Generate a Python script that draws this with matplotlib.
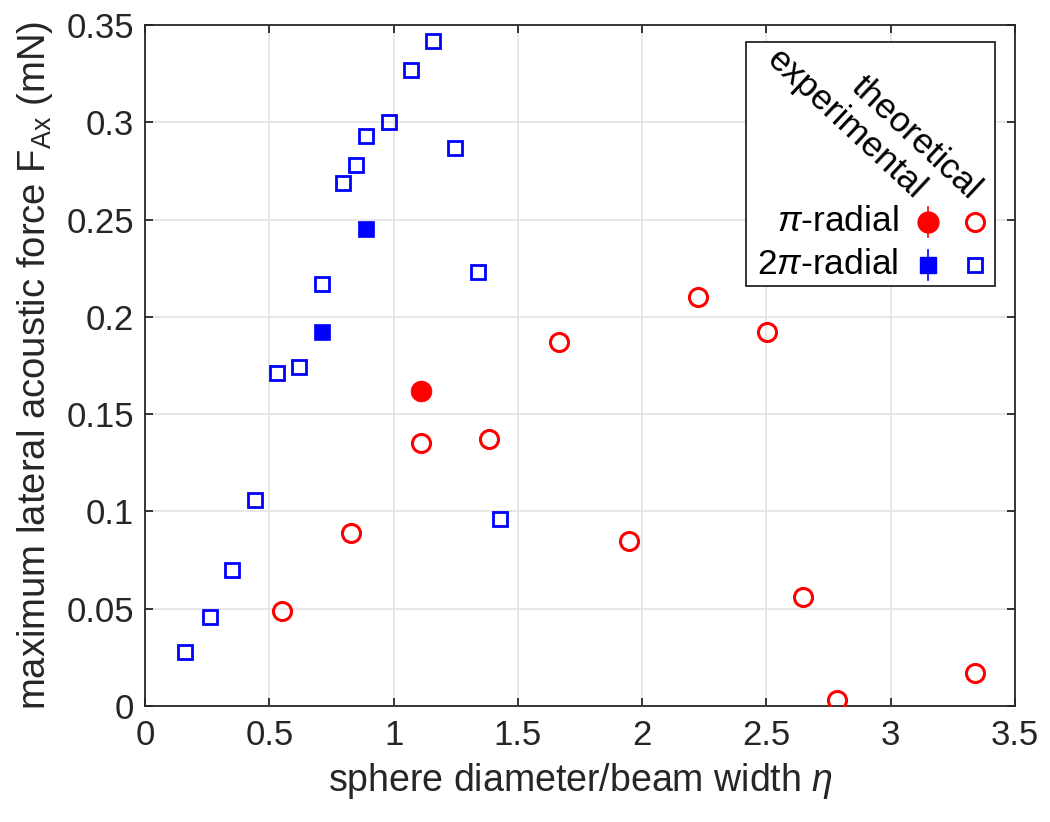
import matplotlib
matplotlib.use('Agg')
import matplotlib.pyplot as plt
from matplotlib.patches import Rectangle
from matplotlib.ticker import FuncFormatter

plt.rcParams['font.family'] = ['Liberation Sans', 'DejaVu Sans']
plt.rcParams['mathtext.fontset'] = 'custom'
plt.rcParams['mathtext.rm'] = 'Liberation Sans'
plt.rcParams['mathtext.it'] = 'Liberation Sans:italic'
plt.rcParams['font.size'] = 25

# theoretical, pi-radial beam
pi_th_eta = [0.551, 0.829, 1.111, 1.385, 1.666, 1.948, 2.225, 2.503, 2.648, 2.785, 3.340]
pi_th_f = [0.049, 0.089, 0.135, 0.137, 0.187, 0.085, 0.210, 0.192, 0.056, 0.003, 0.017]
# theoretical, 2pi-radial beam
tpi_th_eta = [0.161, 0.262, 0.350, 0.443, 0.531, 0.620, 0.712, 0.797, 0.849, 0.889,
              0.982, 1.070, 1.159, 1.247, 1.340, 1.429]
tpi_th_f = [0.028, 0.046, 0.070, 0.106, 0.171, 0.174, 0.217, 0.269, 0.278, 0.293,
            0.300, 0.327, 0.342, 0.287, 0.223, 0.096]
# experimental
pi_ex_eta = [1.111]
pi_ex_f = [0.162]
pi_ex_err = [0.003]
tpi_ex_eta = [0.712, 0.889]
tpi_ex_f = [0.192, 0.245]
tpi_ex_err = [0.003, 0.003]

xticks = [0, 0.5, 1, 1.5, 2, 2.5, 3, 3.5]
yticks = [0, 0.05, 0.1, 0.15, 0.2, 0.25, 0.3, 0.35]

red = '#ff0000'
blue = '#0000ff'
ink = '#262626'

fig = plt.figure(figsize=(10.5, 8.22), dpi=100)
ax = fig.add_axes([0.1381, 0.1411, 0.8286, 0.8285])

ax.plot(pi_th_eta, pi_th_f, 'o', ms=13, mfc='none', mec=red, mew=2.2, zorder=3)
ax.plot(tpi_th_eta, tpi_th_f, 's', ms=10.5, mfc='none', mec=blue, mew=2, zorder=3)
ax.errorbar(pi_ex_eta, pi_ex_f, yerr=pi_ex_err, fmt='o', ms=15, color=red,
            mew=0.5, capsize=3, zorder=4)
ax.errorbar(tpi_ex_eta, tpi_ex_f, yerr=tpi_ex_err, fmt='s', ms=12, color=blue,
            mew=0.5, capsize=3, zorder=4)

ax.set_xlim(0, 3.5)
ax.set_ylim(0, 0.35)
ax.set_xticks(xticks)
ax.set_yticks(yticks)
fmt = FuncFormatter(lambda v, p: '%g' % v)
ax.xaxis.set_major_formatter(fmt)
ax.yaxis.set_major_formatter(fmt)
ax.grid(True, color='#e3e3e3', lw=1.2)
ax.set_axisbelow(True)
for s in ax.spines.values():
    s.set_color(ink)
    s.set_linewidth(1.3)
ax.tick_params(direction='in', length=6, width=1.3, color=ink,
               top=True, right=True, labelcolor=ink)
ax.tick_params(axis='x', pad=9)
ax.tick_params(axis='y', pad=8)

ax.set_xlabel('sphere diameter/beam width $\\eta$', color=ink, fontsize=27,
              labelpad=7)
ax.set_ylabel('maximum lateral acoustic force F$_{\\rm Ax}$ (mN)', color=ink,
              fontsize=27.5, labelpad=8)

# legend, drawn by hand in axes coordinates
tr = ax.transAxes
ax.add_patch(Rectangle((0.691, 0.617), 0.286, 0.358, transform=tr, facecolor='w',
                       edgecolor=ink, lw=1.3, zorder=5))
ax.text(0.806, 0.855, 'experimental', transform=tr, rotation=-43, ha='center',
        va='center', fontsize=25.5, zorder=6)
ax.text(0.886, 0.834, 'theoretical', transform=tr, rotation=-43, ha='center',
        va='center', fontsize=25.5, zorder=6)
rows = [(0.711, '$\\pi$-radial', 'o', red, 15, 13, 2.2),
        (0.6476, '2$\\pi$-radial', 's', blue, 12, 10.5, 2)]
for y, lab, m, c, ms_ex, ms_th, mw in rows:
    ax.text(0.866, y, lab, transform=tr, ha='right', va='center', fontsize=25.5,
            zorder=6)
    ax.plot([0.900, 0.900], [y - 0.022, y + 0.022], color=c, lw=1.2,
            transform=tr, zorder=6)
    ax.plot([0.900], [y], m, ms=ms_ex, color=c, transform=tr, zorder=7, clip_on=False)
    ax.plot([0.954], [y], m, ms=ms_th, mfc='none', mec=c, mew=mw, transform=tr,
            zorder=7, clip_on=False)

fig.savefig('out.png', dpi=100)
